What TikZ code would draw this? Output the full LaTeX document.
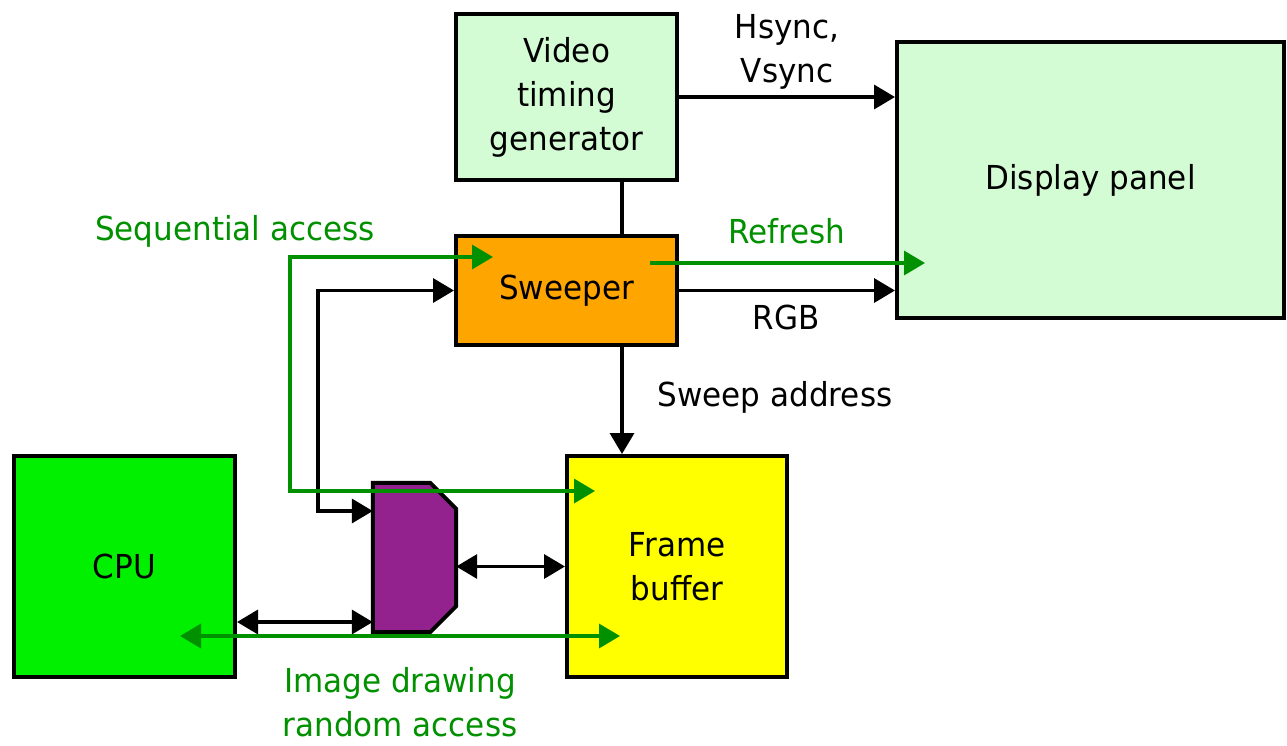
\documentclass[tikz,border=0pt]{standalone}
\usepackage{fontspec}
\setmainfont{DejaVu Sans}[FakeStretch=0.94]
\usetikzlibrary{arrows.meta}

\definecolor{panelgreen}{HTML}{D4FCD4}
\definecolor{sweeporange}{HTML}{FFA500}
\definecolor{fbyellow}{HTML}{FFFF00}
\definecolor{cpugreen}{HTML}{00F000}
\definecolor{muxpurple}{HTML}{93228F}
\definecolor{flowgreen}{HTML}{009000}

\tikzset{
    block/.style={draw, line width=4pt, align=center},
    wire/.style={line width=3.5pt, -{Triangle[length=21pt,width=24pt]}},
    bus/.style={line width=3.5pt, {Triangle[length=21pt,width=24pt]}-{Triangle[length=21pt,width=24pt]}},
    flow/.style={line width=3.5pt, color=flowgreen},
    every node/.style={font=\fontsize{33}{44}\selectfont}
}

\begin{document}
\begin{tikzpicture}[x=1pt, y=-1pt]
        \useasboundingbox (0, 0) rectangle (1287, 745);

        % blocks
        \node[block, fill=panelgreen, minimum width=221, minimum height=166] (vtg) at (566.5, 97) {Video\\timing\\generator};
        \node[block, fill=panelgreen, minimum width=387, minimum height=276] (disp) at (1090.5, 180) {Display panel};
        \node[block, fill=sweeporange, minimum width=221, minimum height=109] (swp) at (566.5, 290.5) {Sweeper};
        \node[block, fill=fbyellow, minimum width=220, minimum height=221] (fb) at (677, 566.5) {Frame\\buffer};
        \node[block, fill=cpugreen, minimum width=221, minimum height=221] (cpu) at (124.5, 566.5) {CPU};
        \node[minimum width=83, minimum height=149, inner sep=0] (mux) at (414.5, 557.5) {};
        \draw[line width=4pt, fill=muxpurple] (mux.north west) -- ([xshift=-26pt]mux.north east)
            -- ([yshift=-26pt]mux.north east) -- ([yshift=26pt]mux.south east)
            -- ([xshift=-26pt]mux.south east) -- (mux.south west) -- cycle;

        % timing and pixel data
        \draw[wire] (vtg.east) -- (vtg.east -| disp.west);
        \node[align=center] (synclbl) at (787, 52) {Hsync,\\Vsync};
        \draw[line width=3.5pt] ([xshift=55.5pt]vtg.south) -- ([xshift=55.5pt]swp.north);
        \draw[wire] (swp.east) -- (swp.east -| disp.west);
        \node (rgblbl) at (786, 317) {RGB};
        \draw[wire] ([xshift=55.5pt]swp.south) -- ([xshift=55.5pt]swp.south |- fb.north);
        \node (addrlbl) at (775, 397) {Sweep address};

        % sweeper <-> mux, cpu <-> mux <-> frame buffer
        \draw[bus] (swp.west) -- (318, 290.5) -- (318, 511) -- (mux.west |- 0, 511);
        \draw[bus] (mux.east |- fb.west) -- (fb.west);
        \draw[bus] (cpu.east |- 0, 622) -- (mux.west |- 0, 622);

        % access paths
        \coordinate (seqin) at (493, 257);
        \coordinate (seqout) at (595, 491);
        \coordinate (refin) at (650, 263);
        \coordinate (refout) at (925, 263);
        \coordinate (rndin) at (180, 636);
        \coordinate (rndout) at (620, 636);
        \draw[flow, bus] (seqin) -- (290, 257) -- (290, 491) -- (seqout);
        \draw[flow, wire] (refin) -- (refout);
        \draw[flow, bus] (rndin) -- (rndout);
        \node[text=flowgreen] (seqlbl) at (235, 231) {Sequential access};
        \node[text=flowgreen] (reflbl) at (787, 231) {Refresh};
        \node[text=flowgreen, align=center] (rndlbl) at (400, 702) {Image drawing\\random access};
    \end{tikzpicture}
\end{document}
